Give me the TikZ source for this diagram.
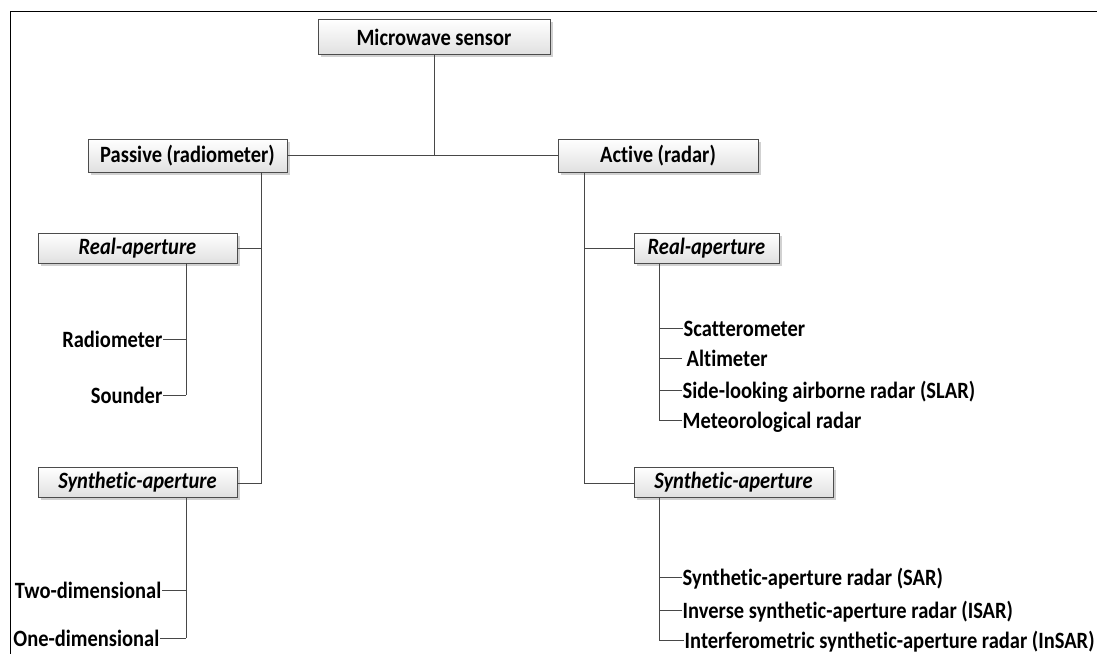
\documentclass[tikz,border=0pt]{standalone}
\usepackage{fontspec}
\usepackage{graphicx}
\setmainfont{Carlito}[Ligatures=NoCommon]
\usetikzlibrary{shadows}
\newcommand{\tall}[1]{\scalebox{1}[1.14]{#1}}
\tikzset{
  box/.style={draw=black!70, line width=0.9pt, top color=white, bottom color=black!12,
    drop shadow={shadow xshift=2.5pt, shadow yshift=-2.5pt, opacity=0.18, fill=black},
    inner sep=0pt, font=\bfseries\fontsize{20.5}{24}\selectfont, text=black},
  ibox/.style={box, font=\bfseries\itshape\fontsize{20.5}{24}\selectfont},
  leaf/.style={inner sep=0.5pt, text height=16pt, text depth=0pt,
    font=\bfseries\fontsize{20.5}{24}\selectfont, text=black},
  link/.style={draw=black!72, line width=1pt},
}
\begin{document}
\begin{tikzpicture}[x=1pt,y=-1pt]
\useasboundingbox (0,0) rectangle (1097,653);
\clip (0,0) rectangle (1097,653);
\fill[white] (0,0) rectangle (1097,653);
\draw[line width=1.8pt, black] (10.5,11.5) rectangle (1200,720);

% boxes
\node[box, minimum width=232pt, minimum height=35pt] (ms) at (434,37) {\tall{Microwave sensor}};
\node[box, minimum width=199pt, minimum height=33pt] (pas) at (187.5,155.5) {\tall{Passive (radiometer)}};
\node[box, minimum width=200pt, minimum height=33pt] (act) at (658,155.5) {\tall{Active (radar)}};
\node[ibox, minimum width=199pt, minimum height=30pt] (ral) at (137.5,248) {\tall{Real-aperture}};
\node[ibox, minimum width=145pt, minimum height=30pt] (rar) at (706.5,248) {\tall{Real-aperture}};
\node[ibox, minimum width=199pt, minimum height=30pt] (sal) at (137.5,482) {\tall{Synthetic-aperture}};
\node[ibox, minimum width=199pt, minimum height=30pt] (sar) at (733.5,482) {\tall{Synthetic-aperture}};

% leaves left
\node[leaf, anchor=east] (rad) at (163,339) {\tall{Radiometer}};
\node[leaf, anchor=east] (snd) at (163,395) {\tall{Sounder}};
\node[leaf, anchor=east] (two) at (162,590) {\tall{Two-dimensional}};
\node[leaf, anchor=east] (one) at (160,638) {\tall{One-dimensional}};

% leaves right
\node[leaf, anchor=west] (sca) at (683,328) {\tall{Scatterometer}};
\node[leaf, anchor=west] (alt) at (686,358) {\tall{Altimeter}};
\node[leaf, anchor=west] (sla) at (682,390) {\tall{Side-looking airborne radar (SLAR)}};
\node[leaf, anchor=west] (met) at (682,420) {\tall{Meteorological radar}};
\node[leaf, anchor=west] (sr1) at (682,577) {\tall{Synthetic-aperture radar (SAR)}};
\node[leaf, anchor=west] (sr2) at (682,610) {\tall{Inverse synthetic-aperture radar (ISAR)}};
\node[leaf, anchor=west] (sr3) at (684,640) {\tall{Interferometric synthetic-aperture radar (InSAR)}};

% junction coordinates
\coordinate (j) at (434,156);
\coordinate (pv) at (261,483);
\coordinate (av) at (584,483);
\coordinate (lra) at (186,395);
\coordinate (lsa) at (186,638);
\coordinate (rra) at (659,420);
\coordinate (rsa) at (659,640);

% top level
\draw[link] (pas.east) -- (act.west);
\draw[link] (ms.south) -- (j);

% passive branch
\draw[link] (pas.south -| pv) -- (pv) -- (sal.east |- pv);
\draw[link] (ral.east) -- (ral.east -| pv);
\draw[link] (ral.south -| lra) -- (lra);
\draw[link] (rad.east) -- (rad.east -| lra);
\draw[link] (snd.east) -- (lra);
\draw[link] (sal.south -| lsa) -- (lsa);
\draw[link] (two.east) -- (two.east -| lsa);
\draw[link] (one.east) -- (lsa);

% active branch
\draw[link] (act.south -| av) -- (av) -- (sar.west |- av);
\draw[link] (rar.west) -- (rar.west -| av);
\draw[link] (rar.south -| rra) -- (rra);
\draw[link] (sca.west) -- (sca.west -| rra);
\draw[link] ([xshift=-4pt]alt.west) -- (alt.west -| rra);
\draw[link] (sla.west) -- (sla.west -| rra);
\draw[link] (met.west) -- (rra);
\draw[link] (sar.south -| rsa) -- (rsa);
\draw[link] (sr1.west) -- (sr1.west -| rsa);
\draw[link] (sr2.west) -- (sr2.west -| rsa);
\draw[link] (sr3.west) -- (rsa);
\end{tikzpicture}
\end{document}
